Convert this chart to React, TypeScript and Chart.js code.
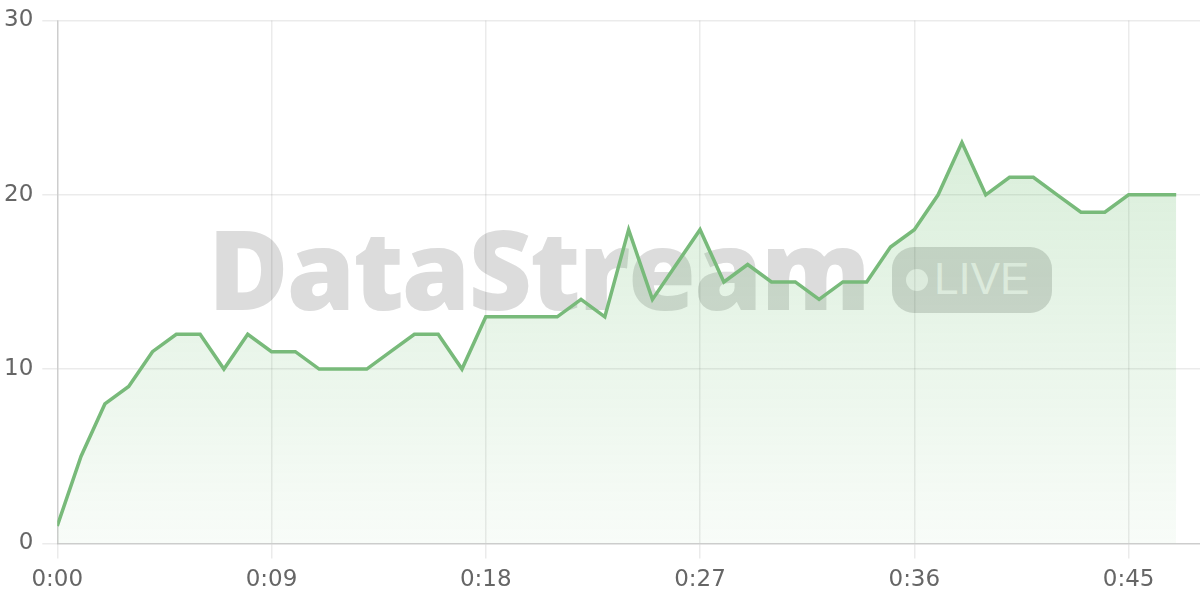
import React, { useEffect, useRef } from "react";
import { Chart, registerables } from "chart.js";

Chart.register(...registerables);

const seconds = [
  0, 1, 2, 3, 4, 5, 6, 7, 8, 9, 10, 11, 12, 13, 14, 15, 16, 17, 18, 19, 20, 21, 22, 23,
  24, 25, 26, 27, 28, 29, 30, 31, 32, 33, 34, 35, 36, 37, 38, 39, 40, 41, 42, 43, 44, 45, 46, 47,
];
const values = [
  1, 5, 8, 9, 11, 12, 12, 10, 12, 11, 11, 10, 10, 10, 11, 12, 12, 10, 13, 13, 13, 13, 14, 13,
  18, 14, 16, 18, 15, 16, 15, 15, 14, 15, 15, 17, 18, 20, 23, 20, 21, 21, 20, 19, 19, 20, 20, 20,
];
const xMax = 48;
const xStep = 9;
const yMax = 30;
const yStep = 10;
const watermarkTitle = "DataStream";
const watermarkBadge = "LIVE";

const fmt = (v: number) => `${Math.floor(v / 60)}:${String(v % 60).padStart(2, "0")}`;

export default function App() {
  const ref = useRef<HTMLCanvasElement | null>(null);

  useEffect(() => {
    document.body.style.margin = "0";
    const canvas = ref.current;
    if (!canvas) return;
    const chart = new Chart(canvas, {
      type: "line",
      data: {
        datasets: [
          {
            data: seconds.map((s, i) => ({ x: s, y: values[i] })),
            borderColor: "rgb(120,186,122)",
            borderWidth: 3.5,
            pointRadius: 0,
            tension: 0,
            fill: "origin",
            backgroundColor: (ctx: any) => {
              const { chart } = ctx;
              const area = chart.chartArea;
              if (!area) return "rgba(76,175,80,0.1)";
              const g = chart.ctx.createLinearGradient(0, area.top, 0, area.bottom);
              g.addColorStop(0, "rgba(76,175,80,0.26)");
              g.addColorStop(1, "rgba(76,175,80,0.04)");
              return g;
            },
          },
        ],
      },
      options: {
        animation: false,
        responsive: false,
        layout: { padding: { left: -5, top: 0, right: 0, bottom: -2 } },
        plugins: { legend: { display: false }, tooltip: { enabled: false } },
        scales: {
          x: {
            type: "linear",
            min: 0,
            max: xMax,
            grid: { color: "rgba(0,0,0,0.08)", tickLength: 15, lineWidth: 1.5 },
            border: { color: "rgba(0,0,0,0.13)", width: 1.5 },
            ticks: {
              stepSize: xStep,
              includeBounds: false,
              padding: 8,
              color: "#666",
              font: { family: "DejaVu Sans", size: 23 },
              callback: (v: any) => fmt(Number(v)),
              maxRotation: 0,
            },
          },
          y: {
            min: 0,
            max: yMax,
            grid: { color: "rgba(0,0,0,0.08)", tickLength: 15, lineWidth: 1.5 },
            border: { color: "rgba(0,0,0,0.13)", width: 1.5 },
            ticks: {
              stepSize: yStep,
              padding: 9,
              color: "#666",
              font: { family: "DejaVu Sans", size: 23, lineHeight: 1.0 },
            },
          },
        },
      },
    });
    return () => chart.destroy();
  }, []);

  return (
    <div style={{ position: "fixed", left: 0, top: 0, width: 1200, height: 600, background: "#fff" }}>
      <div
        style={{
          position: "absolute",
          left: 208,
          top: 212,
          fontFamily: "'Open Sans', 'Liberation Sans', sans-serif",
          fontWeight: 800,
          fontSize: 110,
          lineHeight: "110px",
          color: "#dcdcdc",
          whiteSpace: "nowrap",
          letterSpacing: -2,
        }}
      >
        {watermarkTitle}
      </div>
      <div
        style={{
          position: "absolute",
          left: 892,
          top: 247,
          width: 160,
          height: 66,
          borderRadius: 22,
          background: "#d9d9d9",
        }}
      >
        <div
          style={{
            position: "absolute",
            left: 14,
            top: 22,
            width: 22,
            height: 22,
            borderRadius: 11,
            background: "rgba(255,255,255,0.75)",
          }}
        />
        <div
          style={{
            position: "absolute",
            left: 42,
            top: 10,
            fontFamily: "'Liberation Sans', Arial, sans-serif",
            fontSize: 44,
            lineHeight: "44px",
            color: "rgba(255,255,255,0.75)",
            whiteSpace: "nowrap",
          }}
        >
          {watermarkBadge}
        </div>
      </div>
      <canvas ref={ref} width={1200} height={600} style={{ position: "absolute", left: 0, top: 0 }} />
    </div>
  );
}
